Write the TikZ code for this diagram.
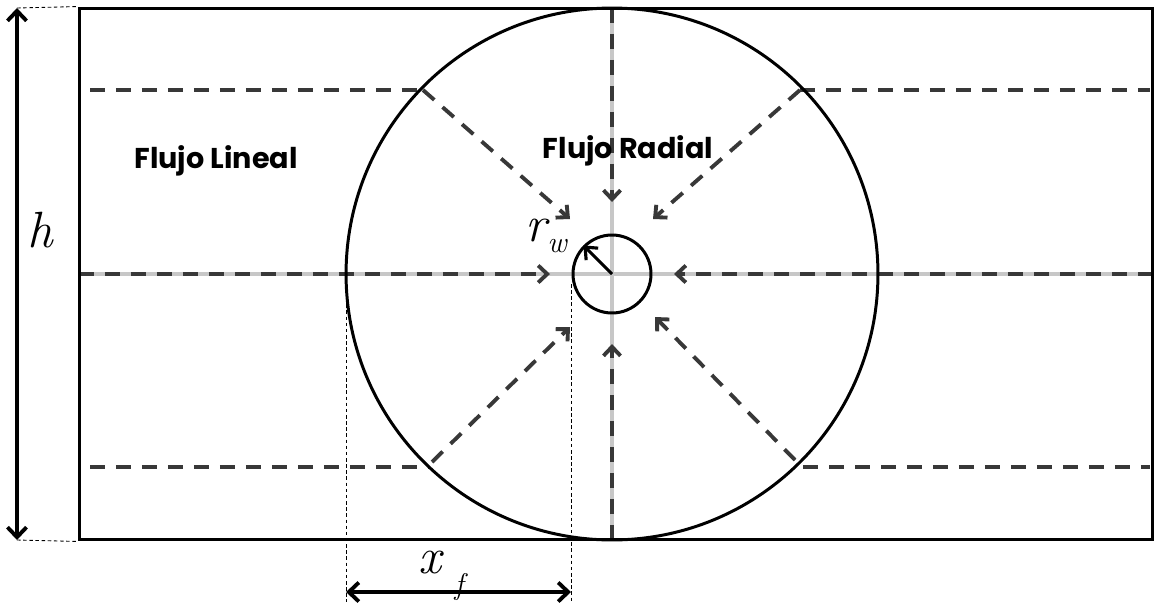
\documentclass[tikz,border=0pt]{standalone}
\usepackage{fontspec}
\newfontfamily\pop{Poppins}
\usetikzlibrary{arrows.meta}
\begin{document}
\begin{tikzpicture}[x=0.02cm,y=-0.02cm,
  frame/.style={line width=1.7pt},
  guide/.style={line width=2.8pt, black!22},
  flowline/.style={line width=2.2pt, black!78, dash pattern=on 0.3cm off 0.22cm},
  flow/.style={flowline, -{Straight Barb[length=0.18cm,width=0.34cm]}},
  thin/.style={line width=0.5pt, dash pattern=on 2pt off 1.5pt},
  dim/.style={line width=2.2pt,{Straight Barb[length=0.2cm,width=0.38cm]}-{Straight Barb[length=0.2cm,width=0.38cm]}},
  lbl/.style={font=\pop\bfseries\fontsize{16.3}{18}\selectfont, inner sep=0pt},
  sym/.style={font=\fontsize{29}{31}\selectfont\itshape, inner sep=0pt},
  sub/.style={font=\fontsize{17}{19}\selectfont\itshape, inner sep=0pt}
]
\useasboundingbox (0,0) rectangle (1155,602);
% key points
\coordinate (C) at (612,274);
\coordinate (RL) at (79,274);
\coordinate (RR) at (1153,274);
\coordinate (RT) at (612,8);
\coordinate (RB) at (612,540);
% grey guide cross
\draw[guide] (RL) -- (RR);
\draw[guide] (RT) -- (RB);
% horizontal dashed flow lines
\coordinate (aL1) at (90,90);   \coordinate (aL2) at (423,90);
\coordinate (aR1) at (800,90);  \coordinate (aR2) at (1150,90);
\coordinate (bL1) at (90,467);  \coordinate (bL2) at (428,467);
\coordinate (bR1) at (803,467); \coordinate (bR2) at (1150,467);
\draw[flowline] (aL1) -- (aL2);
\draw[flowline] (aR1) -- (aR2);
\draw[flowline] (bL1) -- (bL2);
\draw[flowline] (bR1) -- (bR2);
% radial flow arrows
\coordinate (tL) at (550,274);
\coordinate (tR) at (674,274);
\coordinate (tT) at (612,202);
\coordinate (tB) at (612,344);
\coordinate (tTL) at (570,219);
\coordinate (tTR) at (653,219);
\coordinate (tBL) at (570,327);
\coordinate (tBR) at (655,317);
\coordinate (sBL) at (432,462);
\coordinate (sBR) at (795,460);
\draw[flow] (RL) -- (tL);
\draw[flow] (RR) -- (tR);
\draw[flow] (RT) -- (tT);
\draw[flow] (RB) -- (tB);
\draw[flow] (aL2) -- (tTL);
\draw[flow] (aR1) -- (tTR);
\draw[flow] (sBL) -- (tBL);
\draw[flow] (sBR) -- (tBR);
% frame and circles
\node[frame, draw, minimum width=21.48cm, minimum height=10.64cm, inner sep=0pt] (box) at (616,274) {};
\node[frame, draw, circle, minimum size=10.64cm, inner sep=0pt] (big) at (C) {};
\node[frame, draw, circle, minimum size=1.56cm, inner sep=0pt] (well) at (C) {};
\draw[line width=1.8pt, -{Straight Barb[length=0.2cm,width=0.34cm]}] (C) -- (well.135);
% h dimension
\coordinate (hT) at (17,8);
\coordinate (hB) at (17,540);
\draw[thin] (hT) -- (box.north west);
\draw[thin] (hB) -- (box.south west);
\draw[dim] (hT) -- (hB);
\node[sym] (hlab) at (40,230) {h};
% x_f dimension
\coordinate (xL0) at (346,292);
\coordinate (xR0) at (571,284);
\coordinate (xL) at (346,592);
\coordinate (xR) at (571,592);
\draw[thin] (xL0) -- (346,602);
\draw[thin] (xR0) -- (571,602);
\draw[dim] (xL) -- (xR);
\node[sym] (xlab) at (430,563) {x};
\node[sub] (flab) at (459,587) {f};
% r_w label
\node[sym] (rlab) at (536,231) {r};
\node[sub] (wlab) at (557,246) {w};
% region labels
\node[lbl] (lineal) at (216,161) {Flujo Lineal};
\node[lbl] (radial) at (628,151) {Flujo Radial};
\end{tikzpicture}
\end{document}
